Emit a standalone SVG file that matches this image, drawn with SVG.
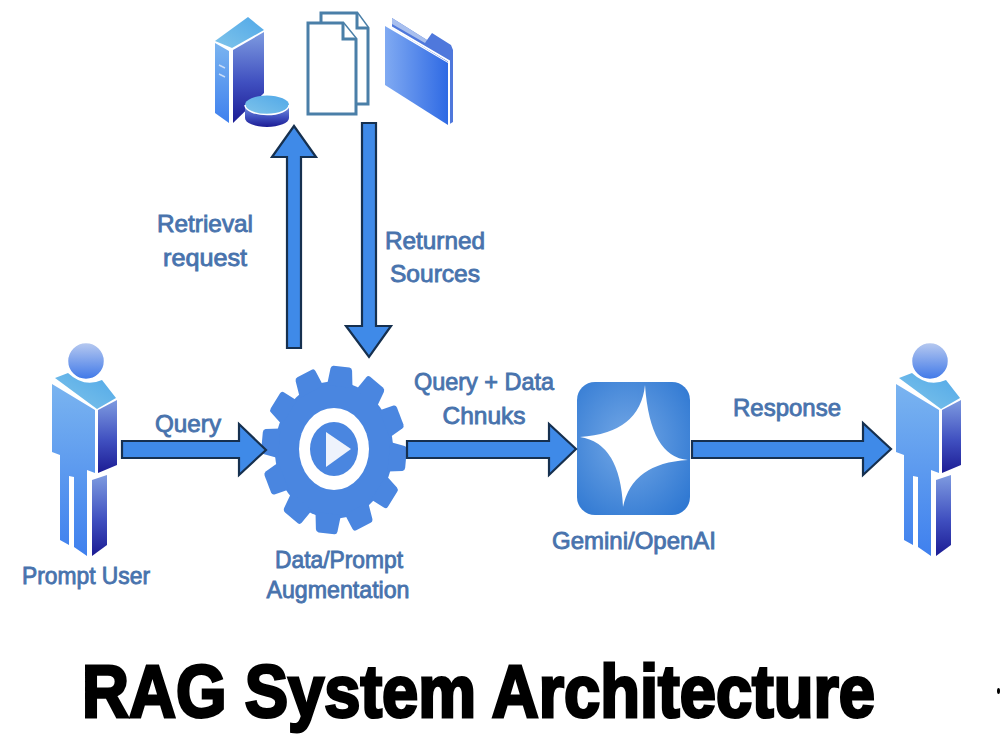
<svg xmlns="http://www.w3.org/2000/svg" xmlns:xlink="http://www.w3.org/1999/xlink" width="1000" height="750" viewBox="0 0 1000 750">
  <style>
    .label { font-family: "Liberation Sans", Arial, sans-serif; font-weight: 400; font-size: 24px; fill: #4873ad; stroke: #4873ad; stroke-width: 0.85px; text-anchor: middle; }
    .title { font-family: "Liberation Sans", Arial, sans-serif; font-weight: 700; font-size: 74px; fill: #000; stroke: #000; stroke-width: 3px; }
    .arrow { fill: #3f8ae8; stroke: #16304f; stroke-width: 2.2; stroke-linejoin: miter; }
    .doc { fill: #fff; stroke: #4a7fa8; stroke-width: 3; stroke-linejoin: miter; }
    .gearfill { fill: #4a86e0; }
  </style>
  <defs>
    <linearGradient id="lightFace" x1="0" y1="0" x2="0" y2="1">
      <stop offset="0" stop-color="#7ab4f0"/><stop offset="1" stop-color="#3f80ee"/>
    </linearGradient>
    <linearGradient id="darkFace" x1="0" y1="0" x2="0" y2="1">
      <stop offset="0" stop-color="#7e9be0"/><stop offset="0.55" stop-color="#4050c0"/><stop offset="1" stop-color="#1c1c94"/>
    </linearGradient>
    <linearGradient id="head" x1="0" y1="0" x2="0" y2="1">
      <stop offset="0" stop-color="#b8caf0"/><stop offset="1" stop-color="#3f78e8"/>
    </linearGradient>
    <linearGradient id="topFace" x1="0" y1="1" x2="1" y2="0">
      <stop offset="0" stop-color="#80c4ea"/><stop offset="1" stop-color="#50a8e8"/>
    </linearGradient>
    <linearGradient id="folderFace" x1="0" y1="0" x2="1" y2="0">
      <stop offset="0" stop-color="#80aaf2"/><stop offset="1" stop-color="#2f6ae4"/>
    </linearGradient>
    <radialGradient id="tile" cx="0.45" cy="0.45" r="0.7">
      <stop offset="0" stop-color="#74a8e6"/><stop offset="1" stop-color="#2f78d2"/>
    </radialGradient>
    <g id="person">
      <path d="M55,378 L68,373 Q84,388 102,380 L116,398 L97,409 Z" fill="url(#topFace)"/>
      <circle cx="86" cy="361" r="18.5" fill="url(#head)" stroke="#fff" stroke-width="1.5"/>
      <path d="M52,384 L95,410 L95,473 L87,470 L87,556 L74,547 L74,477 L69,476 L69,545 L60,540 L60,455 L52,452 Z" fill="url(#lightFace)"/>
      <path d="M98,410 L117,400 L117,465 L98,473 Z" fill="url(#darkFace)"/>
      <path d="M92,480 L107,475 L107,545 L92,556 Z" fill="url(#darkFace)"/>
    </g>
    <path id="tooth" d="M-13,-56 L-11,-71 Q-10.5,-73.5 -8,-73.5 L8,-73.5 Q10.5,-73.5 11,-71 L13,-56 Z"/>
  </defs>

  <rect width="1000" height="750" fill="#fff"/>

  <g id="sources-server">
    <path d="M215,41 L248,17 L264,30 L232,48 Z" fill="url(#topFace)"/>
    <path d="M215,43 L229,51 L229,123 L215,113 Z" fill="url(#lightFace)"/>
    <path d="M233,50 L264,32 L264,93 L233,123 Z" fill="url(#darkFace)"/>
    <path d="M219,65 L225,68 M219,74 L225,77" stroke="#c8dcf8" stroke-width="1.5"/>
    <path d="M245,105 L245,118 A22,9 0 0 0 289,118 L289,105 Z" fill="url(#darkFace)"/>
    <ellipse cx="267" cy="105" rx="22" ry="9.5" fill="url(#topFace)"/>
    <path d="M245,105 A22,9.5 0 0 0 289,105" fill="none" stroke="#fff" stroke-width="1.5"/>
  </g>

  <g id="sources-documents">
    <path class="doc" d="M321,13 L357,13 L368,28 L368,104 L321,104 Z"/>
    <path class="doc" d="M357,13 L357,28 L368,28"/>
    <path class="doc" d="M308,23 L343,23 L356,39 L356,114 L308,114 Z"/>
    <path class="doc" d="M343,23 L343,39 L356,39"/>
  </g>

  <g id="sources-folder">
    <path d="M392,18 L427,40 L432,33 L451,45 L453,50 L453,122 L448,125 L448,62 L392,28 Z" fill="#4f78dc"/>
    <path d="M392,18 L427,40 L425,43 L392,24 Z" fill="#a8bfee"/>
    <path d="M385,26 L448,63 L448,125 L385,85 Z" fill="url(#folderFace)"/>
    <path d="M386,24 L449,61 L449,125" fill="none" stroke="#fff" stroke-width="2"/>
  </g>

  <g id="user-prompt">
    <use href="#person" xlink:href="#person"/>
    <text class="label" x="86" y="584" textLength="128" lengthAdjust="spacingAndGlyphs">Prompt User</text>
  </g>

  <g id="augmentation">
    <g class="gearfill" transform="translate(334,450) scale(0.985,1.14)">
      <circle r="60"/>
      <use href="#tooth" xlink:href="#tooth" transform="rotate(6)"/>
      <use href="#tooth" xlink:href="#tooth" transform="rotate(36)"/>
      <use href="#tooth" xlink:href="#tooth" transform="rotate(66)"/>
      <use href="#tooth" xlink:href="#tooth" transform="rotate(96)"/>
      <use href="#tooth" xlink:href="#tooth" transform="rotate(126)"/>
      <use href="#tooth" xlink:href="#tooth" transform="rotate(156)"/>
      <use href="#tooth" xlink:href="#tooth" transform="rotate(186)"/>
      <use href="#tooth" xlink:href="#tooth" transform="rotate(216)"/>
      <use href="#tooth" xlink:href="#tooth" transform="rotate(246)"/>
      <use href="#tooth" xlink:href="#tooth" transform="rotate(276)"/>
      <use href="#tooth" xlink:href="#tooth" transform="rotate(306)"/>
      <use href="#tooth" xlink:href="#tooth" transform="rotate(336)"/>
    </g>
    <ellipse cx="334" cy="449" rx="35" ry="41" fill="#fff"/>
    <ellipse cx="334" cy="449" rx="24" ry="27" fill="#4a86e0"/>
    <path d="M326,432 L351,449 L326,467 Z" fill="#eef3fc"/>
    <text class="label" x="339" y="568" textLength="128" lengthAdjust="spacingAndGlyphs">Data/Prompt</text>
    <text class="label" x="338" y="598" textLength="143" lengthAdjust="spacingAndGlyphs">Augmentation</text>
  </g>

  <g id="llm">
    <rect x="577" y="382" width="113" height="133" rx="18" fill="url(#tile)"/>
    <path d="M645,385 Q640,433 580,437 Q620,443 623,507 Q632,463 688,460 Q650,457 645,385 Z" fill="#fff"/>
    <text class="label" x="634" y="549" textLength="164" lengthAdjust="spacingAndGlyphs">Gemini/OpenAI</text>
  </g>

  <g id="user-response">
    <use href="#person" xlink:href="#person" x="844"/>
  </g>

  <g id="connectors">
    <path class="arrow" d="M122,441 L239,441 L239,424 L266,450 L239,475 L239,458 L122,458 Z"/>
    <path class="arrow" d="M407,441 L549,441 L549,424 L576,449 L549,475 L549,458 L407,458 Z"/>
    <path class="arrow" d="M692,441 L863,441 L863,423 L891,449 L863,475 L863,458 L692,458 Z"/>
    <path class="arrow" d="M287,348 L287,157 L272,157 L294,126 L316,157 L301,157 L301,348 Z"/>
    <path class="arrow" d="M362,123 L376,123 L376,326 L391,326 L369,357 L346,326 L362,326 Z"/>
    <text class="label" x="205" y="232" textLength="96" lengthAdjust="spacingAndGlyphs">Retrieval</text>
    <text class="label" x="205" y="266" textLength="84" lengthAdjust="spacingAndGlyphs">request</text>
    <text class="label" x="435" y="249" textLength="100" lengthAdjust="spacingAndGlyphs">Returned</text>
    <text class="label" x="435" y="282" textLength="90" lengthAdjust="spacingAndGlyphs">Sources</text>
    <text class="label" x="188" y="432" textLength="66" lengthAdjust="spacingAndGlyphs">Query</text>
    <text class="label" x="484" y="390" textLength="140" lengthAdjust="spacingAndGlyphs">Query + Data</text>
    <text class="label" x="484" y="424" textLength="83" lengthAdjust="spacingAndGlyphs">Chnuks</text>
    <text class="label" x="787" y="416" textLength="108" lengthAdjust="spacingAndGlyphs">Response</text>
  </g>

  <text class="title" x="82" y="717" textLength="793" lengthAdjust="spacingAndGlyphs">RAG System Architecture</text>
  <ellipse cx="998.5" cy="691" rx="1.5" ry="3" fill="#000"/>
</svg>
